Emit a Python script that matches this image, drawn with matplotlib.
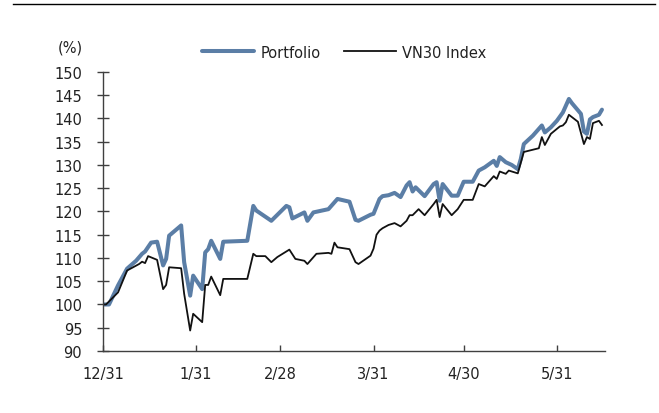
import pandas as pd
import matplotlib
matplotlib.use("Agg")
import matplotlib.pyplot as plt

# values (index, 12/31 = 100)
port_dates = ['2020-12-31', '2021-01-02', '2021-01-05', '2021-01-08', '2021-01-11',
              '2021-01-13', '2021-01-14', '2021-01-16', '2021-01-18', '2021-01-20',
              '2021-01-21', '2021-01-22', '2021-01-26', '2021-01-27', '2021-01-29',
              '2021-01-30', '2021-02-02', '2021-02-03', '2021-02-04', '2021-02-05',
              '2021-02-08', '2021-02-09', '2021-02-17', '2021-02-19', '2021-02-20',
              '2021-02-25', '2021-03-02', '2021-03-03', '2021-03-04', '2021-03-08',
              '2021-03-09', '2021-03-11', '2021-03-16', '2021-03-19', '2021-03-23',
              '2021-03-25', '2021-03-26', '2021-03-30', '2021-03-31', '2021-04-02',
              '2021-04-03', '2021-04-05', '2021-04-07', '2021-04-09', '2021-04-11',
              '2021-04-12', '2021-04-13', '2021-04-14', '2021-04-17', '2021-04-20',
              '2021-04-21', '2021-04-22', '2021-04-23', '2021-04-26', '2021-04-28',
              '2021-04-30', '2021-05-03', '2021-05-05', '2021-05-07', '2021-05-10',
              '2021-05-11', '2021-05-12', '2021-05-14', '2021-05-16', '2021-05-18',
              '2021-05-19', '2021-05-20', '2021-05-23', '2021-05-26', '2021-05-27',
              '2021-05-29', '2021-05-31', '2021-06-02', '2021-06-04', '2021-06-05',
              '2021-06-08', '2021-06-09', '2021-06-10', '2021-06-11', '2021-06-12',
              '2021-06-14', '2021-06-15']
port_vals = [100.0, 100.0, 104.1, 107.7, 109.4,
             110.9, 111.4, 113.3, 113.5, 108.4,
             109.8, 114.8, 117.0, 109.1, 101.9,
             106.2, 103.3, 111.2, 111.9, 113.7,
             109.8, 113.5, 113.7, 121.2, 120.2,
             118.0, 121.2, 120.9, 118.5, 119.8,
             118.0, 119.8, 120.5, 122.7, 122.1,
             118.2, 118.0, 119.3, 119.5, 122.7,
             123.3, 123.5, 124.0, 123.1, 125.6,
             126.3, 124.3, 125.2, 123.3, 125.9,
             126.3, 122.3, 125.9, 123.4, 123.4,
             126.4, 126.4, 128.8, 129.5, 130.9,
             129.8, 131.7, 130.6, 130.0, 129.1,
             131.3, 134.5, 136.3, 138.5, 137.0,
             138.1, 139.5, 141.3, 144.2, 143.3,
             141.0, 137.2, 136.7, 139.8, 140.3,
             140.8, 141.9]

vn30_dates = ['2020-12-31', '2021-01-01', '2021-01-05', '2021-01-08', '2021-01-12',
              '2021-01-13', '2021-01-14', '2021-01-15', '2021-01-18', '2021-01-20',
              '2021-01-21', '2021-01-22', '2021-01-26', '2021-01-27', '2021-01-29',
              '2021-01-30', '2021-02-02', '2021-02-03', '2021-02-04', '2021-02-05',
              '2021-02-08', '2021-02-09', '2021-02-17', '2021-02-19', '2021-02-20',
              '2021-02-23', '2021-02-25', '2021-02-27', '2021-03-03', '2021-03-05',
              '2021-03-08', '2021-03-09', '2021-03-12', '2021-03-16', '2021-03-17',
              '2021-03-18', '2021-03-19', '2021-03-23', '2021-03-25', '2021-03-26',
              '2021-03-30', '2021-03-31', '2021-04-01', '2021-04-02', '2021-04-03',
              '2021-04-05', '2021-04-07', '2021-04-09', '2021-04-11', '2021-04-12',
              '2021-04-13', '2021-04-15', '2021-04-17', '2021-04-20', '2021-04-21',
              '2021-04-22', '2021-04-23', '2021-04-26', '2021-04-28', '2021-04-30',
              '2021-05-03', '2021-05-05', '2021-05-07', '2021-05-10', '2021-05-11',
              '2021-05-12', '2021-05-14', '2021-05-15', '2021-05-18', '2021-05-19',
              '2021-05-20', '2021-05-25', '2021-05-26', '2021-05-27', '2021-05-29',
              '2021-06-01', '2021-06-02', '2021-06-03', '2021-06-04', '2021-06-07',
              '2021-06-09', '2021-06-10', '2021-06-11', '2021-06-12', '2021-06-14',
              '2021-06-15']
vn30_vals = [100.0, 100.0, 102.6, 107.3, 108.7,
             109.2, 108.9, 110.4, 109.6, 103.3,
             104.2, 108.0, 107.8, 102.3, 94.4,
             98.0, 96.2, 104.2, 104.2, 106.0,
             102.0, 105.5, 105.5, 110.9, 110.4,
             110.4, 109.1, 110.2, 111.8, 109.8,
             109.4, 108.7, 110.9, 111.1, 110.9,
             113.3, 112.3, 111.9, 109.1, 108.7,
             110.5, 112.0, 115.0, 115.9, 116.4,
             117.1, 117.5, 116.8, 118.0, 119.2,
             119.2, 120.5, 119.2, 121.6, 122.5,
             118.8, 121.6, 119.2, 120.5, 122.5,
             122.5, 125.9, 125.4, 127.6, 127.0,
             128.6, 128.1, 128.8, 128.2, 130.5,
             132.8, 133.6, 136.0, 134.3, 136.7,
             138.3, 138.5, 139.2, 140.8, 139.3,
             134.5, 136.0, 135.6, 139.0, 139.5,
             138.6]

xtick_dates = ['2020-12-31', '2021-01-31', '2021-02-28', '2021-03-31', '2021-04-30', '2021-05-31']
xtick_labels = ['12/31', '1/31', '2/28', '3/31', '4/30', '5/31']

blue = '#5b7ea6'
axis_col = '#404040'

fig = plt.figure(figsize=(6.59, 4.14), dpi=100)
ax = fig.add_axes([0.1563, 0.1498, 0.7617, 0.6739])

ax.plot(pd.to_datetime(port_dates), port_vals, color=blue, lw=2.9,
        solid_joinstyle='round', solid_capstyle='round', label='Portfolio')
ax.plot(pd.to_datetime(vn30_dates), vn30_vals, color='#111111', lw=1.3,
        label='VN30 Index')

ax.set_ylim(90, 150)
ax.set_yticks(range(90, 151, 5))
ax.set_xlim(pd.Timestamp('2020-12-31'), pd.Timestamp('2021-06-16'))
ax.set_xticks(pd.to_datetime(xtick_dates))
ax.set_xticklabels(xtick_labels)

for s in ['top', 'right']:
    ax.spines[s].set_visible(False)
for s in ['left', 'bottom']:
    ax.spines[s].set_color(axis_col)
    ax.spines[s].set_linewidth(1.0)

ax.tick_params(axis='y', direction='inout', length=8, width=1, color=axis_col,
               labelsize=10.5, pad=11, labelcolor='#222222')
ax.tick_params(axis='x', direction='in', length=4, width=1, color=axis_col,
               labelsize=10.5, pad=11, labelcolor='#222222')

fig.text(70 / 659, 1 - 48 / 414, '(%)', ha='center', va='center',
         fontsize=10.5, color='#222222')

fig.legend(loc='center', bbox_to_anchor=(344 / 659, 1 - 53 / 414), ncol=2,
           frameon=False, fontsize=10.5, handlelength=3.6, handletextpad=0.4,
           columnspacing=1.6, labelcolor='#222222')

# thin rule across the top of the figure
fig.add_artist(plt.Line2D([13 / 659, 655 / 659], [1 - 5 / 414, 1 - 5 / 414],
                          transform=fig.transFigure, color='black', lw=1.0))

fig.savefig('out.png', dpi=100)
